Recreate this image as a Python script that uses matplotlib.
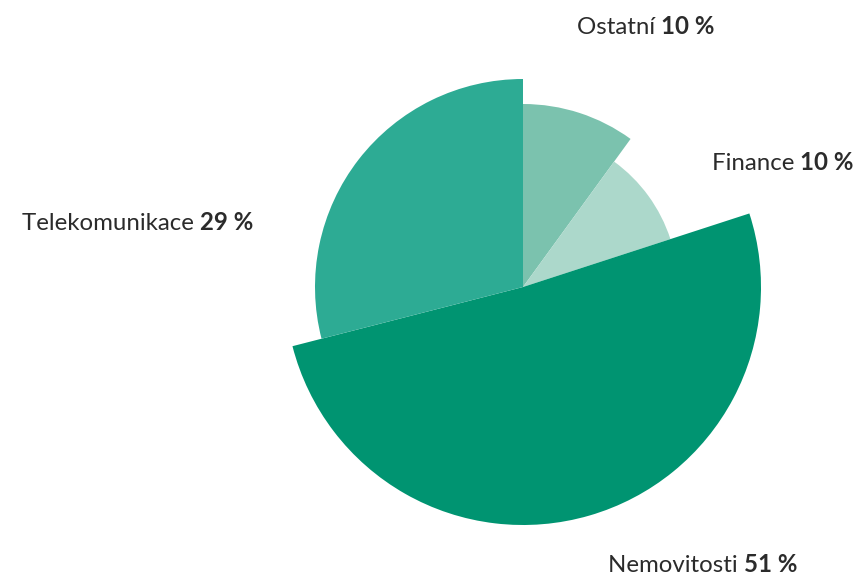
import matplotlib
matplotlib.use("Agg")
import matplotlib.pyplot as plt
from matplotlib.patches import Wedge

categories = ["Ostatní", "Finance", "Nemovitosti", "Telekomunikace"]
values = [10, 10, 51, 29]
value_labels = ["10 %", "10 %", "51 %", "29 %"]

# styling / layout (not data)
radii = [183, 155, 238, 208]
colors = ["#7bc2ae", "#acd8cb", "#009471", "#2dab94"]
label_pos = [(577, 27), (712, 164), (608, 565), (22, 224)]  # left x, center y (pixels from top)

W, H = 866, 579
fig = plt.figure(figsize=(W / 100, H / 100), dpi=100)
ax = fig.add_axes([0, 0, 1, 1])
ax.set_xlim(0, W)
ax.set_ylim(0, H)
ax.set_aspect("equal")
ax.axis("off")

cx, cy = 523, H - 287
total = sum(values)
start = 0.0
for v, r, c in zip(values, radii, colors):
    end = start + v / total * 360.0
    ax.add_patch(Wedge((cx, cy), r, 90 - end, 90 - start, facecolor=c, edgecolor="none"))
    start = end

font = "Lato"
fs = 17.3
txtc = "#2b2b2b"
for cat, vl, (lx, ly) in zip(categories, value_labels, label_pos):
    t1 = ax.text(lx, H - ly, cat + " ", fontsize=fs, family=font, color=txtc,
                 ha="left", va="center")
    ax.annotate(vl, xy=(1, 0), xycoords=t1, xytext=(0, 0), textcoords="offset points",
                fontsize=fs, family=font, color=txtc, fontweight="bold",
                ha="left", va="bottom")

fig.savefig("out.png", dpi=100)
